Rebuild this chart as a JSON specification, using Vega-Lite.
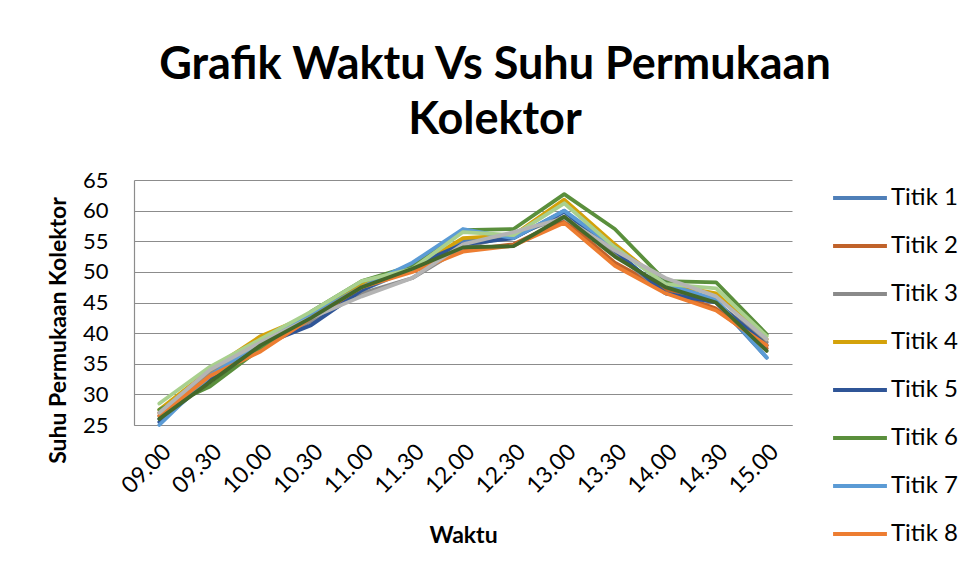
{
  "$schema": "https://vega.github.io/schema/vega-lite/v6.json",
  "width": 658,
  "height": 245,
  "autosize": {"type": "none"},
  "padding": {"left": 134, "top": 180, "right": 181, "bottom": 149},
  "background": "white",
  "title": {
    "text": ["Grafik Waktu Vs Suhu Permukaan", "Kolektor"],
    "font": "Lato",
    "fontSize": 45,
    "fontWeight": "bold",
    "color": "#000000",
    "lineHeight": 55,
    "anchor": "middle",
    "frame": "group",
    "dx": 32,
    "offset": 26
  },
  "datasets": {
    "suhu": [
      {"Waktu": "09.00", "Titik 1": 26.0, "Titik 2": 27.0, "Titik 3": 26.5, "Titik 4": 27.5, "Titik 5": 25.5, "Titik 6": 27.5, "Titik 7": 25.0, "Titik 8": 26.5, "Titik 9": 28.5, "Titik 10": 27.0, "Titik 11": 26.0},
      {"Waktu": "09.30", "Titik 1": 33.0, "Titik 2": 33.5, "Titik 3": 33.5, "Titik 4": 34.0, "Titik 5": 32.5, "Titik 6": 31.3, "Titik 7": 33.0, "Titik 8": 33.0, "Titik 9": 34.5, "Titik 10": 34.0, "Titik 11": 32.0},
      {"Waktu": "10.00", "Titik 1": 38.0, "Titik 2": 37.5, "Titik 3": 38.0, "Titik 4": 39.5, "Titik 5": 38.0, "Titik 6": 37.5, "Titik 7": 38.5, "Titik 8": 37.0, "Titik 9": 39.0, "Titik 10": 38.5, "Titik 11": 38.0},
      {"Waktu": "10.30", "Titik 1": 42.0, "Titik 2": 42.0, "Titik 3": 42.0, "Titik 4": 43.0, "Titik 5": 41.3, "Titik 6": 43.5, "Titik 7": 43.0, "Titik 8": 42.5, "Titik 9": 43.5, "Titik 10": 42.5, "Titik 11": 42.5},
      {"Waktu": "11.00", "Titik 1": 47.0, "Titik 2": 47.5, "Titik 3": 46.5, "Titik 4": 48.0, "Titik 5": 47.0, "Titik 6": 48.5, "Titik 7": 47.5, "Titik 8": 47.5, "Titik 9": 48.5, "Titik 10": 46.0, "Titik 11": 47.5},
      {"Waktu": "11.30", "Titik 1": 50.5, "Titik 2": 50.5, "Titik 3": 49.0, "Titik 4": 50.5, "Titik 5": 51.0, "Titik 6": 51.0, "Titik 7": 51.5, "Titik 8": 50.0, "Titik 9": 50.5, "Titik 10": 49.0, "Titik 11": 50.5},
      {"Waktu": "12.00", "Titik 1": 55.0, "Titik 2": 53.5, "Titik 3": 54.0, "Titik 4": 55.5, "Titik 5": 54.5, "Titik 6": 56.8, "Titik 7": 57.0, "Titik 8": 53.3, "Titik 9": 56.5, "Titik 10": 54.5, "Titik 11": 54.0},
      {"Waktu": "12.30", "Titik 1": 55.5, "Titik 2": 54.5, "Titik 3": 56.0, "Titik 4": 56.0, "Titik 5": 55.5, "Titik 6": 57.0, "Titik 7": 55.5, "Titik 8": 54.3, "Titik 9": 56.0, "Titik 10": 56.5, "Titik 11": 54.2},
      {"Waktu": "13.00", "Titik 1": 60.0, "Titik 2": 58.5, "Titik 3": 59.0, "Titik 4": 61.8, "Titik 5": 59.8, "Titik 6": 62.7, "Titik 7": 60.0, "Titik 8": 58.0, "Titik 9": 61.2, "Titik 10": 58.8, "Titik 11": 59.0},
      {"Waktu": "13.30", "Titik 1": 53.0, "Titik 2": 51.5, "Titik 3": 53.0, "Titik 4": 54.5, "Titik 5": 53.5, "Titik 6": 57.0, "Titik 7": 54.0, "Titik 8": 51.0, "Titik 9": 54.0, "Titik 10": 53.5, "Titik 11": 52.5},
      {"Waktu": "14.00", "Titik 1": 47.0, "Titik 2": 47.0, "Titik 3": 46.5, "Titik 4": 48.0, "Titik 5": 46.5, "Titik 6": 48.5, "Titik 7": 48.0, "Titik 8": 46.5, "Titik 9": 48.0, "Titik 10": 49.0, "Titik 11": 47.5},
      {"Waktu": "14.30", "Titik 1": 45.0, "Titik 2": 44.0, "Titik 3": 45.0, "Titik 4": 46.5, "Titik 5": 45.0, "Titik 6": 48.3, "Titik 7": 45.5, "Titik 8": 43.7, "Titik 9": 47.3, "Titik 10": 46.0, "Titik 11": 45.0},
      {"Waktu": "15.00", "Titik 1": 36.0, "Titik 2": 37.5, "Titik 3": 38.5, "Titik 4": 39.0, "Titik 5": 38.0, "Titik 6": 39.8, "Titik 7": 36.0, "Titik 8": 38.0, "Titik 9": 39.5, "Titik 10": 39.0, "Titik 11": 37.1}
    ]
  },
  "data": {"name": "suhu"},
  "transform": [
    {"fold": ["Titik 1", "Titik 2", "Titik 3", "Titik 4", "Titik 5", "Titik 6", "Titik 7", "Titik 8", "Titik 9", "Titik 10", "Titik 11"], "as": ["Seri", "Suhu"]}
  ],
  "mark": {"type": "line", "strokeWidth": 3.8, "strokeCap": "round", "strokeJoin": "round"},
  "encoding": {
    "x": {
      "field": "Waktu",
      "type": "ordinal",
      "sort": null,
      "scale": {"type": "point", "padding": 0.5},
      "axis": {
        "title": "Waktu",
        "titleFont": "Lato",
        "titleFontSize": 23,
        "titleFontWeight": "bold",
        "titleColor": "#000000",
        "titlePadding": 27,
        "labelFont": "Lato",
        "labelFontSize": 23,
        "labelColor": "#000000",
        "labelAngle": -45,
        "labelPadding": 15,
        "ticks": false,
        "grid": false,
        "domainColor": "#8c8c8c",
        "domainWidth": 1.2
      }
    },
    "y": {
      "field": "Suhu",
      "type": "quantitative",
      "scale": {"domain": [25, 65], "nice": false, "zero": false},
      "axis": {
        "title": "Suhu Permukaan Kolektor",
        "titleFont": "Lato",
        "titleFontSize": 23,
        "titleFontWeight": "bold",
        "titleColor": "#000000",
        "titlePadding": 12,
        "titleY": 150,
        "values": [25, 30, 35, 40, 45, 50, 55, 60, 65],
        "labelFont": "Lato",
        "labelFontSize": 22,
        "labelColor": "#000000",
        "labelPadding": 26,
        "ticks": false,
        "grid": true,
        "gridColor": "#8c8c8c",
        "gridWidth": 1.2,
        "domainColor": "#8c8c8c",
        "domainWidth": 1.2
      }
    },
    "color": {
      "field": "Seri",
      "type": "nominal",
      "scale": {
        "domain": ["Titik 1", "Titik 2", "Titik 3", "Titik 4", "Titik 5", "Titik 6", "Titik 7", "Titik 8", "Titik 9", "Titik 10", "Titik 11"],
        "range": ["#4f7fb8", "#c0622a", "#8a8a8a", "#d4a20a", "#2f5597", "#5a8f3c", "#5b9bd5", "#ed7d31", "#a9d08e", "#b4b4b4", "#43682b"]
      },
      "legend": {
        "values": ["Titik 1", "Titik 2", "Titik 3", "Titik 4", "Titik 5", "Titik 6", "Titik 7", "Titik 8"],
        "title": null,
        "orient": "none",
        "legendX": 697,
        "legendY": -11,
        "symbolType": "stroke",
        "symbolSize": 2900,
        "symbolStrokeWidth": 4,
        "labelFont": "Lato",
        "labelFontSize": 24,
        "labelColor": "#000000",
        "labelOffset": 2,
        "rowPadding": 7
      }
    }
  },
  "config": {
    "view": {"stroke": null}
  }
}
